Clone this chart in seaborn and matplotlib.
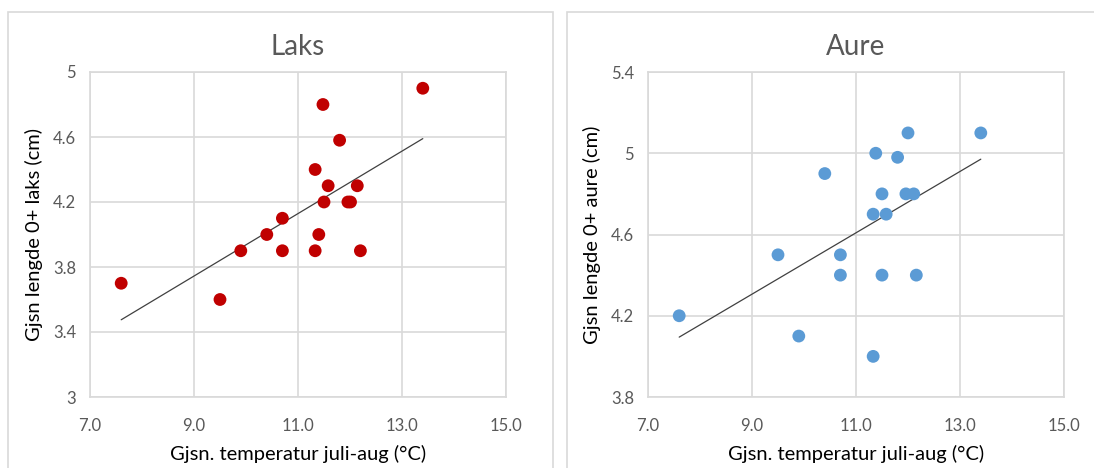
import numpy as np
import pandas as pd
import matplotlib
matplotlib.use("Agg")
import matplotlib.pyplot as plt
from matplotlib.patches import Rectangle
from matplotlib.ticker import FuncFormatter
import seaborn as sns

# Data
laks_temp = [7.6, 9.5, 9.9, 10.4, 10.7, 10.7, 11.33, 11.33, 11.4, 11.48, 11.5, 11.58,
             11.8, 11.96, 12.01, 12.14, 12.2, 13.4]
laks_len = [3.7, 3.6, 3.9, 4.0, 4.1, 3.9, 4.4, 3.9, 4.0, 4.8, 4.2, 4.3,
            4.58, 4.2, 4.2, 4.3, 3.9, 4.9]

aure_temp = [7.6, 9.9, 9.5, 10.4, 10.7, 10.7, 11.33, 11.33, 11.38, 11.5, 11.5, 11.58,
             11.8, 11.96, 12.0, 12.11, 12.16, 13.4]
aure_len = [4.2, 4.1, 4.5, 4.9, 4.5, 4.4, 4.7, 4.0, 5.0, 4.8, 4.4, 4.7,
            4.98, 4.8, 5.1, 4.8, 4.4, 5.1]

x_ticks = [7.0, 9.0, 11.0, 13.0, 15.0]
laks_yticks = [3.0, 3.4, 3.8, 4.2, 4.6, 5.0]
aure_yticks = [3.8, 4.2, 4.6, 5.0, 5.4]

titles = ["Laks", "Aure"]
ylabels = ["Gjsn lengde 0+ laks (cm)", "Gjsn lengde 0+ aure (cm)"]
xlabel = "Gjsn. temperatur juli-aug (°C)"
colors = ["#C00000", "#5B9BD5"]

sns.set_theme(style="white")
plt.rcParams["font.family"] = ["Lato", "DejaVu Sans"]

W, H = 1094, 468
fig = plt.figure(figsize=(W / 100, H / 100), dpi=100)
fig.patch.set_facecolor("white")

grid_c = "#D9D9D9"
tick_c = "#595959"

# chart borders (in pixel -> figure coords)
def px_rect(x0, y0, x1, y1):
    return Rectangle((x0 / W, 1 - y1 / H), (x1 - x0) / W, (y1 - y0) / H,
                     transform=fig.transFigure, fill=False, edgecolor=grid_c,
                     linewidth=1.2, zorder=0)

fig.patches.append(px_rect(8, 12, 553, 480))
fig.patches.append(px_rect(567, 12, 1110, 480))

axes_px = [(90, 72, 506, 397), (648, 72, 1064, 397)]
datasets = [(laks_temp, laks_len, laks_yticks), (aure_temp, aure_len, aure_yticks)]

for i, ((x0, y0, x1, y1), (xt, yl, yt)) in enumerate(zip(axes_px, datasets)):
    ax = fig.add_axes([x0 / W, 1 - y1 / H, (x1 - x0) / W, (y1 - y0) / H])
    df = pd.DataFrame({"temp": xt, "len": yl})
    sns.regplot(data=df, x="temp", y="len", ax=ax, scatter=False, ci=None,
                truncate=True, line_kws=dict(color="#404040", linewidth=0.9, zorder=2))
    sns.scatterplot(data=df, x="temp", y="len", ax=ax, color=colors[i], s=85,
                    edgecolor="none", linewidth=0, zorder=3)
    ax.set_xlim(x_ticks[0], x_ticks[-1])
    ax.set_ylim(yt[0], yt[-1])
    ax.set_xticks(x_ticks)
    ax.set_yticks(yt)
    ax.xaxis.set_major_formatter(FuncFormatter(lambda v, p: f"{v:.1f}"))
    ax.yaxis.set_major_formatter(FuncFormatter(lambda v, p: f"{v:g}"))
    ax.grid(True, color=grid_c, linewidth=1.2, zorder=0)
    ax.set_axisbelow(True)
    for sp in ax.spines.values():
        sp.set_color(grid_c)
        sp.set_linewidth(1.2)
        sp.set_visible(True)
    ax.tick_params(axis="both", length=0, labelsize=12, labelcolor=tick_c)
    ax.tick_params(axis="x", pad=15)
    ax.tick_params(axis="y", pad=10)
    ax.set_xlabel(xlabel, fontsize=14.5, color="#000000", labelpad=8)
    ax.set_ylabel(ylabels[i], fontsize=14.5, color="#000000", labelpad=7)
    ax.set_title(titles[i], fontsize=20, color=tick_c, pad=12)

fig.savefig("out.png", dpi=100, facecolor="white")
